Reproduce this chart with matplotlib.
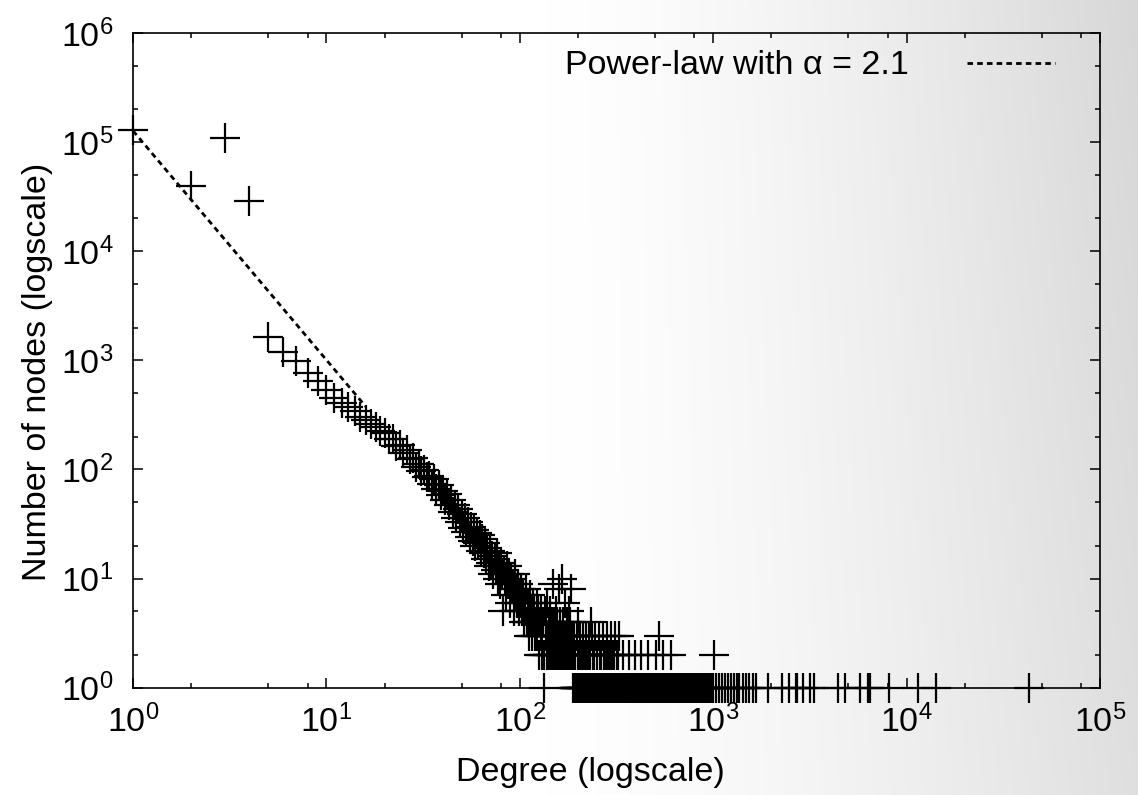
import numpy as np
import matplotlib
matplotlib.use('Agg')
import matplotlib.pyplot as plt
from matplotlib.ticker import LogLocator, NullFormatter

# fonts: helvetica-like look of the gnuplot output
plt.rcParams['font.family'] = ['Liberation Sans', 'DejaVu Sans']
plt.rcParams['mathtext.fontset'] = 'custom'
plt.rcParams['mathtext.rm'] = 'Liberation Sans'
plt.rcParams['mathtext.it'] = 'Liberation Sans:italic'
plt.rcParams['mathtext.bf'] = 'Liberation Sans:bold'

# number of nodes for degree 1, 2, 3, ...
head_counts = [130000, 40000, 108000, 29000, 1620, 1200, 990, 760, 640, 535,
               450, 405, 372, 340, 305, 284, 263, 243, 226, 215,
               190, 192, 165, 168, 142, 150, 124, 128, 106, 113,
               96, 99, 86,
               88, 74, 81, 66, 72, 58, 63, 52, 60, 47, 53, 41, 47, 36, 43, 33,
               39, 29, 36, 27, 33, 24, 30, 22, 28, 20, 26,
               21, 25, 18, 23, 17, 21, 15, 19, 13, 18, 14, 16, 11, 15, 12, 17,
               10, 13, 9, 14, 11, 5, 12, 10, 7, 13, 9, 11, 6, 10, 8, 9, 5, 11,
               7, 8, 6, 9, 5, 7,
               6, 8, 5, 7, 4, 6, 5, 8, 4, 6, 3, 5, 7, 4, 5, 3, 6, 4, 5, 3,
               4, 6, 3, 5, 4, 2, 4, 3, 5, 2, 3, 4,
               2, 1,
               5, 3, 4, 2, 6, 3, 4, 2, 5, 3, 2, 4, 3, 9, 2, 3, 4, 2, 5, 3,
               2, 4, 3, 2, 8, 3, 2, 4, 3, 2, 10, 2, 3, 4, 2, 3, 2, 6, 3, 2,
               4, 2, 3, 2, 5, 3, 2, 4, 2, 3, 8, 2, 3]

# tail of the distribution: degrees seen with 4, 3, 2 and 1 nodes
tail_fours = [200, 234]
tail_threes = [191, 197, 204, 212, 219, 228, 236, 245, 256, 268, 281, 296, 312, 327, 523]
tail_twos = [189, 193, 199, 202, 207, 210, 215, 221, 225, 231, 239, 243, 250, 259, 264,
             273, 278, 287, 292, 301, 306, 318, 323, 340, 369, 392, 424, 459, 507, 548,
             606, 1014]
tail_ones = [188, 190, 192, 194, 196, 198, 201, 205, 208, 211, 214, 218, 222, 226, 230,
             233, 237, 241, 246, 249, 253, 257, 261, 266, 270, 275, 280, 284, 289, 294,
             298, 303, 308, 314, 320, 325, 331, 337, 344, 350, 357, 364, 372, 379, 387,
             395, 403, 411, 420, 429, 438, 447, 456, 466, 476, 486, 496, 506, 517, 528,
             539, 550, 562, 574, 586, 598, 611, 624, 637, 650, 664, 678, 692, 707, 722,
             737, 752, 768, 784, 800, 817, 834, 851, 869, 887, 906, 925, 944, 964, 984,
             1000, 1032, 1075, 1110, 1150, 1188, 1230, 1288, 1330, 1366, 1420, 1480,
             1538, 1600, 1667, 1914, 2270, 2455, 2680, 2720, 2900, 3180, 3335, 4435,
             4805, 5765, 6350, 6480, 8070, 11400, 14200, 42700]

# fitted power law
alpha = 2.1
pl_scale = 1.27e5
pl_degree = np.array([1.0, 16.0])

# put everything together
deg = np.concatenate([np.arange(1, len(head_counts) + 1), tail_fours, tail_threes, tail_twos, tail_ones])
cnt = np.concatenate([head_counts, [4] * len(tail_fours), [3] * len(tail_threes),
                      [2] * len(tail_twos), [1] * len(tail_ones)])

W, H = 1138, 795
fig = plt.figure(figsize=(W / 100, H / 100), dpi=100)

# slide background: white on the left fading to light grey on the right
gx, gy = np.meshgrid(np.linspace(0, 1, W), np.linspace(1, 0, H))  # gy = 0 at the top row
t = np.clip((gx - 0.48) / 0.52, 0, 1) ** 1.4 * (0.8 + 0.2 * gy)
shade = (255 - 40 * t) / 255.0
fig.figimage(np.dstack([shade, shade, shade]), xo=0, yo=0, origin='upper', zorder=-10)

# plot area in pixels: x 133..1100, y 33..688 (from top)
ax = fig.add_axes([133 / W, 1 - 687.7 / H, (1100 - 133) / W, (687.7 - 33) / H])
ax.set_facecolor('none')

ax.plot(deg, cnt, linestyle='none', marker='+', markersize=21.6, mew=1.6, color='black',
        clip_on=False, zorder=3)
ax.plot(pl_degree, pl_scale * pl_degree ** -alpha, color='black', lw=2.0,
        linestyle=(0, (2.0, 1.5)), label='Power-law with \u03b1 = 2.1', zorder=4)

ax.set_xscale('log')
ax.set_yscale('log')
ax.set_xlim(1, 1e5)
ax.set_ylim(1, 1e6)

# gnuplot style ticks: inward on all four sides
ax.xaxis.set_major_locator(LogLocator(base=10, numticks=10))
ax.xaxis.set_minor_locator(LogLocator(base=10, subs=[2, 5, 8], numticks=10))
ax.yaxis.set_major_locator(LogLocator(base=10, numticks=10))
ax.yaxis.set_minor_locator(LogLocator(base=10, subs=[2, 5], numticks=10))
ax.xaxis.set_minor_formatter(NullFormatter())
ax.yaxis.set_minor_formatter(NullFormatter())
ax.tick_params(which='both', direction='in', top=True, right=True, width=1.1, labelsize=24.5)
ax.tick_params(which='major', length=7.5)
ax.tick_params(which='minor', length=3.8)
ax.tick_params(axis='x', which='major', pad=12)
ax.tick_params(axis='y', which='major', pad=14)
for s in ax.spines.values():
    s.set_linewidth(1.2)

ax.set_xlabel('Degree (logscale)', fontsize=24.5)
ax.set_ylabel('Number of nodes (logscale)', fontsize=24.5)
ax.xaxis.set_label_coords((590 - 133) / 967, (687.7 - 773) / 654.7)
ax.xaxis.label.set_va('center')
ax.yaxis.set_label_coords((38 - 133) / 967, (687.7 - 372) / 654.7)
ax.yaxis.label.set_va('center')

ax.legend(loc='center right', bbox_to_anchor=((1055 - 133) / 967, (687.7 - 66) / 654.7),
          frameon=False, markerfirst=False, fontsize=24.5, handlelength=2.6,
          handletextpad=1.7, borderpad=0, borderaxespad=0)

fig.savefig('out.png', dpi=100)
